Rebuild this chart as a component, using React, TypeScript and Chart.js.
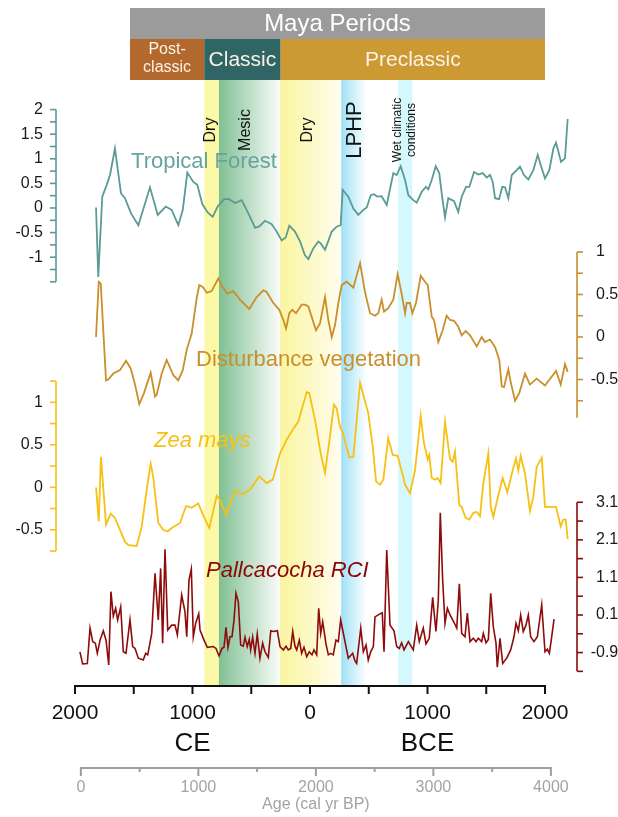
import React, { useEffect, useRef } from "react";
import { Chart, registerables } from "chart.js";

Chart.register(...registerables);

const FONT = '"Liberation Sans", Arial, Helvetica, sans-serif';

// Time axis: negative = years CE, positive = years BCE
// ---------- Tropical Forest ----------
const tfYears = [-1821,-1802,-1768,-1730,-1702,-1660,-1609,-1575,-1523,-1461,-1362,-1296,-1228,-1177,-1121,-1083,-1044,-993,-959,-917,-871,-828,-786,-732,-689,-638,-581,-525,-468,-434,-383,-326,-283,-241,-207,-176,-128,-85,-43,-14,28,71,91,128,185,227,261,278,326,369,411,454,483,517,545,573,610,653,709,738,772,809,837,879,908,951,987,1007,1036,1070,1100,1126,1149,1177,1226,1262,1291,1328,1356,1396,1432,1470,1504,1532,1555,1575,1609,1637,1660,1688,1717,1759,1787,1821,1858,1901,1938,1964,2000,2037,2071,2094,2136,2170,2193];
const tfValues = [0.01,-1.40,0.23,0.47,0.67,1.21,0.30,0.20,-0.11,-0.35,0.42,-0.14,0.03,-0.04,-0.35,-0.04,0.72,0.53,0.47,0.08,-0.09,-0.18,0.03,0.18,0.18,0.10,0.16,-0.11,-0.40,-0.38,-0.26,-0.33,-0.48,-0.66,-0.60,-0.36,-0.48,-0.68,-0.96,-1.04,-0.82,-0.68,-0.72,-0.85,-0.48,-0.38,-0.35,0.37,0.23,-0.01,-0.14,-0.04,0.01,0.26,0.28,0.23,0.24,0.06,0.71,0.67,0.85,0.57,0.26,0.16,0.11,0.33,0.43,0.38,0.57,0.85,0.71,0.20,-0.19,0.20,0.14,-0.08,0.23,0.43,0.43,0.73,0.68,0.71,0.62,0.67,0.53,0.20,0.18,0.43,0.42,0.20,0.67,0.77,0.84,0.67,0.58,0.77,1.08,0.87,0.60,0.77,1.21,1.33,0.94,1.01,1.81];

// ---------- Disturbance vegetation ----------
const dvYears = [-1821,-1798,-1781,-1736,-1717,-1674,-1617,-1566,-1526,-1489,-1453,-1413,-1356,-1319,-1305,-1262,-1220,-1163,-1121,-1083,-1049,-1007,-964,-942,-913,-879,-837,-780,-746,-704,-653,-596,-517,-454,-397,-369,-312,-261,-227,-204,-176,-151,-119,-71,-43,-14,51,85,128,156,185,213,241,270,312,369,426,468,511,553,581,610,630,666,709,746,780,809,823,851,871,902,942,979,1002,1036,1055,1092,1129,1163,1192,1226,1262,1291,1325,1362,1419,1461,1489,1532,1575,1611,1632,1651,1688,1708,1745,1781,1830,1872,1929,2000,2094,2134,2170,2193];
const dvValues = [0.00,0.65,0.63,-0.51,-0.50,-0.43,-0.39,-0.28,-0.37,-0.56,-0.79,-0.66,-0.42,-0.70,-0.68,-0.43,-0.27,-0.45,-0.51,-0.39,-0.15,0.04,0.46,0.61,0.59,0.52,0.54,0.69,0.59,0.51,0.54,0.44,0.33,0.47,0.55,0.53,0.40,0.32,0.20,0.10,0.28,0.32,0.28,0.38,0.38,0.36,0.08,0.16,0.47,0.20,0.00,0.14,0.40,0.61,0.65,0.58,0.87,0.53,0.28,0.25,0.28,0.44,0.30,0.34,0.44,0.74,0.51,0.28,0.40,0.40,0.28,0.40,0.72,0.65,0.61,0.24,0.20,-0.06,0.08,0.25,0.20,0.19,0.12,0.02,0.07,0.02,-0.11,0.00,-0.06,-0.03,-0.12,-0.27,-0.58,-0.59,-0.38,-0.53,-0.75,-0.66,-0.43,-0.56,-0.49,-0.57,-0.40,-0.56,-0.32,-0.41];

// ---------- Zea mays ----------
const zeaYears = [-1821,-1798,-1779,-1736,-1696,-1660,-1617,-1575,-1546,-1475,-1432,-1390,-1356,-1334,-1291,-1249,-1211,-1177,-1106,-1055,-1007,-951,-902,-857,-794,-766,-715,-638,-581,-511,-432,-369,-317,-255,-198,-142,-100,-28,-6,43,91,128,170,204,227,255,278,334,369,426,496,534,562,596,624,666,704,746,794,809,851,894,942,970,1002,1015,1036,1064,1087,1112,1149,1192,1215,1234,1271,1291,1325,1356,1390,1419,1447,1475,1518,1538,1560,1603,1640,1679,1725,1753,1773,1793,1830,1872,1901,1929,1972,2000,2094,2134,2156,2177,2193];
const zeaValues = [0.00,-0.40,0.36,-0.44,-0.31,-0.36,-0.50,-0.64,-0.68,-0.69,-0.46,-0.03,0.28,0.12,-0.42,-0.50,-0.52,-0.48,-0.42,-0.22,-0.24,-0.19,-0.35,-0.48,-0.10,-0.15,-0.32,-0.04,-0.08,-0.03,0.13,0.05,0.09,0.40,0.56,0.69,0.77,1.12,1.11,0.79,0.40,0.17,0.60,0.97,0.93,0.71,0.65,0.35,0.36,1.23,0.87,0.48,0.07,0.03,0.09,0.58,0.38,0.37,0.12,0.03,-0.07,0.20,0.84,0.52,0.33,0.38,0.11,0.09,0.11,0.05,0.77,0.33,0.30,0.42,-0.21,-0.23,-0.36,-0.38,-0.30,-0.29,-0.34,0.05,0.40,-0.22,-0.35,-0.09,0.11,-0.06,0.20,0.34,0.20,0.37,0.16,-0.28,-0.11,0.24,0.35,-0.23,-0.23,-0.46,-0.38,-0.38,-0.61];

// ---------- Pallcacocha RCI ----------
const rciYears = [-1958,-1935,-1895,-1872,-1849,-1827,-1810,-1787,-1759,-1736,-1713,-1694,-1674,-1654,-1637,-1611,-1589,-1566,-1532,-1509,-1489,-1461,-1419,-1398,-1381,-1347,-1319,-1291,-1271,-1254,-1234,-1211,-1177,-1149,-1129,-1092,-1064,-1049,-1030,-1010,-993,-973,-947,-936,-902,-874,-823,-800,-774,-749,-732,-715,-698,-681,-664,-647,-630,-610,-590,-568,-553,-534,-517,-505,-488,-468,-449,-426,-403,-383,-355,-334,-312,-278,-255,-227,-204,-185,-164,-147,-128,-113,-91,-71,-51,-28,-6,17,34,57,74,91,108,136,156,176,198,221,241,261,278,298,326,363,383,397,432,454,477,496,517,539,553,596,615,630,653,681,715,738,760,780,800,837,879,908,930,964,987,1015,1044,1072,1092,1109,1129,1149,1169,1192,1226,1249,1271,1291,1319,1339,1362,1390,1413,1432,1461,1475,1498,1518,1538,1560,1583,1594,1617,1640,1674,1708,1736,1753,1773,1793,1815,1838,1858,1878,1906,1935,1972,2000,2020,2037,2057,2077];
const rciValues = [-0.88,-1.20,-1.19,-0.25,-0.61,-0.65,-0.92,-0.57,-0.32,-0.57,-1.23,0.72,0.07,0.28,-0.03,0.32,-0.88,-0.92,-0.03,-0.74,-0.79,-1.05,-1.10,-0.92,-0.96,-0.39,1.21,-0.03,1.34,-0.65,1.85,-0.30,-0.17,-0.17,-0.43,0.63,0.19,-0.48,1.03,1.32,-0.48,-0.12,0.13,-0.30,-0.57,-0.76,-0.74,-0.79,-0.99,-0.79,-0.76,-0.23,-0.76,-0.48,-0.48,-0.05,0.68,0.45,-0.70,-0.73,-0.49,-0.74,-0.55,-0.83,-0.49,-0.92,-0.41,-1.05,-0.65,-0.88,-1.03,-0.32,-0.34,-0.32,-0.74,-0.83,-0.73,-0.83,-0.79,-0.34,-0.73,-0.83,-0.57,-0.92,-0.76,-1.01,-0.88,-0.96,-0.83,-0.96,0.28,-0.39,-0.08,-0.67,-0.96,-0.92,-0.96,-0.57,-0.61,-0.03,-0.30,-0.61,-1.05,-0.92,-1.12,-1.19,-0.25,-0.88,-0.70,-1.10,-0.88,-0.74,0.05,0.13,0.16,-0.88,1.83,-0.17,-0.32,-0.74,-0.79,-0.64,-0.83,-0.61,-0.83,-0.17,-0.61,-0.25,-0.67,-0.52,0.57,-0.34,0.50,2.82,1.03,-0.12,0.28,0.10,-0.10,-0.25,0.93,-0.39,-0.48,0.15,-0.61,-0.52,-0.61,-0.52,-0.61,-0.39,-0.64,-0.55,0.68,-0.21,-0.65,-1.29,-0.52,-1.19,-1.05,-0.83,-0.48,-0.12,-0.32,0.10,-0.34,-0.17,0.10,-0.48,-0.61,-0.48,0.37,-0.88,-0.81,-0.92,-0.48,-0.01];

// ---------- Axis ticks ----------
const xTicks = [-2000, -1500, -1000, -500, 0, 500, 1000, 1500, 2000];
const xLabelTicks = [-2000, -1000, 0, 1000, 2000];
const bpTicks = [0, 500, 1000, 1500, 2000, 2500, 3000, 3500, 4000];
const bpLabelTicks = [0, 1000, 2000, 3000, 4000];
const tfTickLabels = [2, 1.5, 1, 0.5, 0, -0.5, -1];
const dvTickLabels = [1, 0.5, 0, -0.5];
const zeaTickLabels = [1, 0.5, 0, -0.5];
const rciTickLabels = [3.1, 2.1, 1.1, 0.1, -0.9];

// ---------- Maya periods ----------
const periodNames = ["Post-\nclassic", "Classic", "Preclassic"];
const periodStarts = [-1532, -900, -250];
const periodEnds = [-900, -250, 2000];
const periodColors = ["#b3692d", "#2f6565", "#cc9933"];

// ---------- Climate bands ----------
const bandNames = ["Dry", "Mesic", "Dry", "LPHP", "Wet climatic\nconditions"];
const bandStarts = [-900, -775, -255, 265, 750];
const bandEnds = [-775, -255, 265, 485, 870];
const bandColorFrom = ["#fbf8a8", "#80c093", "#faf59e", "#9fe1f6", "#d4f8fb"];
const bandColorTo = ["#fbf8a8", "#fafcfa", "#fffdf0", "#ffffff", "#d4f8fb"];
const bandLabelAt = [-843, -545, -17, 383, 808];

const COLORS = {
  tf: "#5b9a95",
  tfText: "#68a39e",
  dv: "#c98f2d",
  zea: "#f6c114",
  rci: "#8e0b0b",
  rciText: "#8b0606",
};

function pts(xs: number[], ys: number[]) {
  return xs.map((x, i) => ({ x, y: ys[i] }));
}

function fmt(v: number) {
  return String(v);
}

function drawYAxis(
  ctx: CanvasRenderingContext2D,
  scale: any,
  xPix: number,
  side: "left" | "right",
  lo: number,
  hi: number,
  step: number,
  labels: number[],
  color: string
) {
  const yTop = scale.getPixelForValue(hi);
  const yBot = scale.getPixelForValue(lo);
  ctx.save();
  ctx.strokeStyle = color;
  ctx.lineWidth = 1.6;
  ctx.beginPath();
  ctx.moveTo(xPix, yTop);
  ctx.lineTo(xPix, yBot);
  ctx.stroke();
  const dir = side === "left" ? -1 : 1;
  const n = Math.floor((hi - lo) / step + 1e-6);
  for (let i = 0; i <= n; i++) {
    const v = hi - i * step;
    const y = scale.getPixelForValue(v);
    ctx.beginPath();
    ctx.moveTo(xPix, y);
    ctx.lineTo(xPix + dir * 6, y);
    ctx.stroke();
  }
  ctx.fillStyle = "#1a1a1a";
  ctx.font = `16px ${FONT}`;
  ctx.textBaseline = "middle";
  labels.forEach((v) => {
    const y = scale.getPixelForValue(v);
    const s = fmt(v);
    if (side === "left") {
      ctx.textAlign = "right";
      ctx.fillText(s, xPix - 13, y);
    } else {
      ctx.textAlign = "left";
      const w = s.startsWith("-") ? ctx.measureText("-").width : 0;
      ctx.fillText(s, xPix + 19 - w, y);
    }
  });
  ctx.restore();
}

const decorPlugin = {
  id: "decor",
  beforeDatasetsDraw(chart: any) {
    const { ctx, chartArea: ca, scales } = chart;
    const x = scales.x;
    ctx.save();
    bandStarts.forEach((s, i) => {
      const x0 = x.getPixelForValue(s);
      const x1 = x.getPixelForValue(bandEnds[i]);
      const g = ctx.createLinearGradient(x0, 0, x1, 0);
      g.addColorStop(0, bandColorFrom[i]);
      g.addColorStop(1, bandColorTo[i]);
      ctx.fillStyle = g;
      ctx.fillRect(x0, ca.top, x1 - x0, ca.bottom - ca.top);
    });
    // rotated band labels
    const sizes = [16, 16, 16, 22, 12];
    bandNames.forEach((name, i) => {
      const cx = x.getPixelForValue(bandLabelAt[i]);
      ctx.save();
      ctx.translate(cx, 130);
      ctx.rotate(-Math.PI / 2);
      ctx.font = `${sizes[i]}px ${FONT}`;
      ctx.fillStyle = "#111";
      ctx.textAlign = "center";
      ctx.textBaseline = "middle";
      const lines = name.split("\n");
      lines.forEach((ln, j) => {
        ctx.fillText(ln, 0, (j - (lines.length - 1) / 2) * 14);
      });
      ctx.restore();
    });
    ctx.restore();
  },
  afterDatasetsDraw(chart: any) {
    const { ctx, scales } = chart;
    const x = scales.x;
    ctx.save();

    // series labels
    const lab = (text: string, t: number, sc: any, v: number, color: string, italic: boolean) => {
      ctx.font = `${italic ? "italic " : ""}22px ${FONT}`;
      ctx.fillStyle = color;
      ctx.textAlign = "left";
      ctx.textBaseline = "middle";
      ctx.fillText(text, x.getPixelForValue(t), sc.getPixelForValue(v));
    };
    lab("Tropical Forest", -1523, scales.yTF, 0.935, COLORS.tfText, false);
    lab("Disturbance vegetation", -970, scales.yDV, -0.27, COLORS.dv, false);
    lab("Zea mays", -1328, scales.yZea, 0.545, COLORS.zea, true);
    lab("Pallcacocha RCI", -885, scales.yRCI, 1.27, COLORS.rciText, true);

    // y axes
    drawYAxis(ctx, scales.yTF, 56, "left", -1.5, 2, 0.25, tfTickLabels, COLORS.tf);
    drawYAxis(ctx, scales.yDV, 577, "right", -0.95, 1, 0.25, dvTickLabels, COLORS.dv);
    drawYAxis(ctx, scales.yZea, 56, "left", -0.75, 1.25, 0.25, zeaTickLabels, COLORS.zea);
    drawYAxis(ctx, scales.yRCI, 577, "right", -1.4, 3.1, 0.5, rciTickLabels, COLORS.rci);

    // main time axis (CE / BCE)
    const axY = 686;
    ctx.strokeStyle = "#111";
    ctx.lineWidth = 2;
    ctx.beginPath();
    ctx.moveTo(x.getPixelForValue(xTicks[0]), axY);
    ctx.lineTo(x.getPixelForValue(xTicks[xTicks.length - 1]), axY);
    ctx.stroke();
    xTicks.forEach((t) => {
      const px = x.getPixelForValue(t);
      ctx.beginPath();
      ctx.moveTo(px, axY - 1);
      ctx.lineTo(px, axY + 8);
      ctx.stroke();
    });
    ctx.fillStyle = "#111";
    ctx.font = `21px ${FONT}`;
    ctx.textAlign = "center";
    ctx.textBaseline = "middle";
    xLabelTicks.forEach((t) => {
      ctx.fillText(String(Math.abs(t)), x.getPixelForValue(t), 713);
    });
    ctx.font = `26px ${FONT}`;
    ctx.fillText("CE", x.getPixelForValue(-1000), 744);
    ctx.fillText("BCE", x.getPixelForValue(1000), 744);

    // BP axis
    const bpY = 768;
    const bpToT = (bp: number) => bp - 1950;
    ctx.strokeStyle = "#9e9e9e";
    ctx.lineWidth = 2;
    ctx.beginPath();
    ctx.moveTo(x.getPixelForValue(bpToT(bpTicks[0])), bpY);
    ctx.lineTo(x.getPixelForValue(bpToT(bpTicks[bpTicks.length - 1])), bpY);
    ctx.stroke();
    bpTicks.forEach((bp) => {
      const px = x.getPixelForValue(bpToT(bp));
      const major = bp % 1000 === 0;
      ctx.beginPath();
      ctx.moveTo(px, bpY - 1);
      ctx.lineTo(px, bpY + (major ? 8 : 4));
      ctx.stroke();
    });
    ctx.fillStyle = "#a3a3a3";
    ctx.font = `16px ${FONT}`;
    bpLabelTicks.forEach((bp) => {
      ctx.fillText(String(bp), x.getPixelForValue(bpToT(bp)), 788);
    });
    ctx.fillText("Age (cal yr BP)", x.getPixelForValue(bpToT(2000)), 805);

    // Maya periods header
    const gx0 = x.getPixelForValue(periodStarts[0]);
    const gx1 = x.getPixelForValue(periodEnds[periodEnds.length - 1]);
    ctx.fillStyle = "#9b9b9b";
    ctx.fillRect(gx0, 8, gx1 - gx0, 31);
    ctx.fillStyle = "#ffffff";
    ctx.font = `24px ${FONT}`;
    ctx.fillText("Maya Periods", (gx0 + gx1) / 2, 24);
    periodNames.forEach((name, i) => {
      const p0 = x.getPixelForValue(periodStarts[i]);
      const p1 = x.getPixelForValue(periodEnds[i]);
      ctx.fillStyle = periodColors[i];
      ctx.fillRect(p0, 39, p1 - p0, 41);
      ctx.fillStyle = "#fbf3e6";
      const lines = name.split("\n");
      if (lines.length > 1) {
        ctx.font = `16px ${FONT}`;
        lines.forEach((ln, j) => ctx.fillText(ln, (p0 + p1) / 2, 50 + j * 18));
      } else {
        ctx.font = `21px ${FONT}`;
        ctx.fillText(name, (p0 + p1) / 2, 60);
      }
    });
    ctx.restore();
  },
};

export default function App() {
  const ref = useRef<HTMLCanvasElement | null>(null);
  useEffect(() => {
    if (!ref.current) return;
    const chart = new Chart(ref.current, {
      type: "line",
      data: {
        datasets: [
          { label: "Tropical Forest", data: pts(tfYears, tfValues), yAxisID: "yTF", borderColor: COLORS.tf, borderWidth: 1.8, pointRadius: 0, tension: 0, fill: false },
          { label: "Disturbance vegetation", data: pts(dvYears, dvValues), yAxisID: "yDV", borderColor: COLORS.dv, borderWidth: 1.8, pointRadius: 0, tension: 0, fill: false },
          { label: "Zea mays", data: pts(zeaYears, zeaValues), yAxisID: "yZea", borderColor: COLORS.zea, borderWidth: 1.8, pointRadius: 0, tension: 0, fill: false },
          { label: "Pallcacocha RCI", data: pts(rciYears, rciValues), yAxisID: "yRCI", borderColor: COLORS.rci, borderWidth: 1.6, pointRadius: 0, tension: 0, fill: false },
        ],
      },
      options: {
        responsive: false,
        animation: false,
        events: [],
        layout: { padding: { left: 75, right: 43.625, top: 80, bottom: 131 } },
        plugins: { legend: { display: false }, tooltip: { enabled: false }, title: { display: false } },
        scales: {
          x: { type: "linear", min: -2000, max: 2250, display: false },
          yTF: { type: "linear", min: -9.7154, max: 2.6016, display: false },
          yDV: { type: "linear", min: -4.1059, max: 3.0235, display: false },
          yZea: { type: "linear", min: -2.3376, max: 4.7918, display: false },
          yRCI: { type: "linear", min: -1.79, max: 14.34, display: false },
        },
      },
      plugins: [decorPlugin],
    } as any);
    return () => chart.destroy();
  }, []);
  return (
    <div style={{ position: "absolute", left: 0, top: 0, width: 618, height: 817 }}>
      <canvas ref={ref} width={618} height={817} style={{ display: "block" }} />
    </div>
  );
}
